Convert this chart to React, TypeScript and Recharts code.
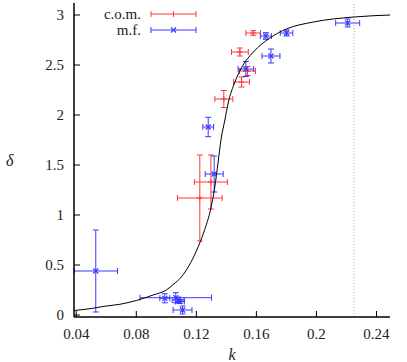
import React from "react";
import {
  ComposedChart,
  Line,
  Scatter,
  ErrorBar,
  XAxis,
  YAxis,
  ReferenceLine,
} from "recharts";

// theory curve
const curveK = [
  0.0385, 0.05, 0.06, 0.069, 0.08, 0.0912, 0.1, 0.105, 0.11, 0.115, 0.12, 0.125,
  0.1297, 0.1323, 0.1345, 0.1365, 0.139, 0.1412, 0.1457, 0.15, 0.158, 0.169,
  0.18, 0.198, 0.225, 0.249,
];
const curveDelta = [
  0.045, 0.065, 0.09, 0.107, 0.145, 0.2, 0.25, 0.31, 0.38, 0.49, 0.64, 0.83,
  1.07, 1.28, 1.53, 1.76, 1.95, 2.12, 2.33, 2.47, 2.63, 2.77, 2.86, 2.93, 2.98,
  3.0,
];

// c.o.m.
const comK = [0.1579, 0.149, 0.1541, 0.1501, 0.1383, 0.1223, 0.1297];
const comDelta = [2.82, 2.63, 2.44, 2.33, 2.16, 1.17, 1.33];
const comErrK = [0.0049, 0.0056, 0.0053, 0.0053, 0.006, 0.0149, 0.011];
const comErrDelta = [0.023, 0.04, 0.045, 0.05, 0.085, 0.43, 0.27];

// m.f.
const mfK = [
  0.1279, 0.153, 0.1663, 0.1697, 0.1801, 0.2208, 0.1319, 0.053, 0.099, 0.1063,
  0.1079, 0.109, 0.1108,
];
const mfDelta = [
  1.88, 2.46, 2.79, 2.59, 2.82, 2.92, 1.41, 0.44, 0.167, 0.173, 0.15, 0.135,
  0.05,
];
const mfErrK = [
  0.0036, 0.0052, 0.0037, 0.006, 0.0042, 0.008, 0.006, 0.0145, 0.0033, 0.0238,
  0.004, 0.003, 0.0063,
];
const mfErrDelta = [
  0.097, 0.075, 0.033, 0.07, 0.03, 0.04, 0.18, 0.41, 0.045, 0.05, 0.03, 0.02,
  0.04,
];

const xTicks = [0.04, 0.08, 0.12, 0.16, 0.2, 0.24];
const yTicks = [0, 0.5, 1, 1.5, 2, 2.5, 3];
const xLabels = ["0.04", "0.08", "0.12", "0.16", "0.2", "0.24"];
const yLabels = ["0", "0.5", "1", "1.5", "2", "2.5", "3"];

const X_DOMAIN: [number, number] = [0.0385, 0.249];
const Y_DOMAIN: [number, number] = [-0.02, 3.12];

const RED = "#ff3838";
const BLUE = "#3838ff";
const FONT = "Liberation Serif";
const textStyle = { fontFamily: FONT, fontSize: 15, fill: "#222" };

const curveData = curveK.map((k, i) => ({ k, delta: curveDelta[i] }));
const comData = comK.map((k, i) => ({
  k,
  delta: comDelta[i],
  ek: comErrK[i],
  ed: comErrDelta[i],
}));
const mfData = mfK.map((k, i) => ({
  k,
  delta: mfDelta[i],
  ek: mfErrK[i],
  ed: mfErrDelta[i],
}));

const PlusMark = (props: any) => {
  const { cx, cy } = props;
  return (
    <path
      d={`M${cx - 3},${cy}H${cx + 3}M${cx},${cy - 3}V${cy + 3}`}
      stroke={RED}
      strokeWidth={1}
      fill="none"
    />
  );
};

const CrossMark = (props: any) => {
  const { cx, cy } = props;
  return (
    <path
      d={`M${cx - 2.5},${cy - 2.5}L${cx + 2.5},${cy + 2.5}M${cx - 2.5},${cy + 2.5}L${cx + 2.5},${cy - 2.5}`}
      stroke={BLUE}
      strokeWidth={1.2}
      fill="none"
    />
  );
};

const BottomTick = (props: any) => {
  const { x, y, index } = props;
  return (
    <g>
      <line x1={x} y1={y} x2={x} y2={y - 6} stroke="#000" strokeWidth={1} />
      <text
        x={x}
        y={y + 17}
        textAnchor="middle"
        dominantBaseline="central"
        style={textStyle}
      >
        {xLabels[index]}
      </text>
    </g>
  );
};

const TopTick = (props: any) => {
  const { x, y } = props;
  return <line x1={x} y1={y} x2={x} y2={y + 6} stroke="#000" strokeWidth={1} />;
};

const LeftTick = (props: any) => {
  const { x, y, index } = props;
  return (
    <g>
      <line x1={x} y1={y} x2={x + 6} y2={y} stroke="#000" strokeWidth={1} />
      <text
        x={x - 10}
        y={y}
        textAnchor="end"
        dominantBaseline="central"
        style={textStyle}
      >
        {yLabels[index]}
      </text>
    </g>
  );
};

const RightTick = (props: any) => {
  const { x, y } = props;
  return <line x1={x} y1={y} x2={x - 6} y2={y} stroke="#000" strokeWidth={1} />;
};

const LegendRow = ({
  y,
  label,
  color,
  cross,
}: {
  y: number;
  label: string;
  color: string;
  cross: boolean;
}) => (
  <g>
    <text
      x={141}
      y={y}
      textAnchor="end"
      dominantBaseline="central"
      style={textStyle}
    >
      {label}
    </text>
    <path
      d={`M151,${y}H196M151,${y - 3}V${y + 3}M196,${y - 3}V${y + 3}`}
      stroke={color}
      strokeWidth={1}
      fill="none"
    />
    {cross ? (
      <path
        d={`M171,${y - 2.5}L176,${y + 2.5}M171,${y + 2.5}L176,${y - 2.5}`}
        stroke={color}
        strokeWidth={1.2}
      />
    ) : (
      <path d={`M173.5,${y - 3}V${y + 3}`} stroke={color} strokeWidth={1} />
    )}
  </g>
);

export default function App() {
  return (
    <div style={{ position: "absolute", left: 0, top: 0, width: 407, height: 362, background: "#fff", fontFamily: FONT }}>
      <ComposedChart
        width={407}
        height={362}
        margin={{ top: 3, right: 17, left: 6, bottom: 15 }}
      >
        <XAxis
          type="number"
          dataKey="k"
          domain={X_DOMAIN}
          allowDataOverflow
          ticks={xTicks}
          interval={0}
          height={30}
          tickSize={0}
          tickMargin={0}
          tick={<BottomTick />}
          axisLine={{ stroke: "#000", strokeWidth: 1.5 }}
          tickLine={false}
          label={{
            value: "k",
            position: "bottom",
            offset: 2,
            style: { fontFamily: FONT, fontStyle: "italic", fontSize: 16, fill: "#222" },
          }}
        />
        <XAxis
          xAxisId="top"
          orientation="top"
          type="number"
          domain={X_DOMAIN}
          allowDataOverflow
          ticks={xTicks}
          interval={0}
          height={0}
          tickSize={0}
          tickMargin={0}
          tick={<TopTick />}
          axisLine={{ stroke: "#000", strokeWidth: 1.5 }}
          tickLine={false}
        />
        <YAxis
          type="number"
          domain={Y_DOMAIN}
          allowDataOverflow
          ticks={yTicks}
          interval={0}
          width={68}
          tickSize={0}
          tickMargin={0}
          tick={<LeftTick />}
          axisLine={{ stroke: "#000", strokeWidth: 1.5 }}
          tickLine={false}
          label={{
            value: "δ",
            position: "insideLeft",
            offset: 0,
            style: { fontFamily: FONT, fontStyle: "italic", fontSize: 16, fill: "#222" },
          }}
        />
        <YAxis
          yAxisId="right"
          orientation="right"
          type="number"
          domain={Y_DOMAIN}
          allowDataOverflow
          ticks={yTicks}
          interval={0}
          width={0}
          tickSize={0}
          tickMargin={0}
          tick={<RightTick />}
          axisLine={{ stroke: "#000", strokeWidth: 1.5 }}
          tickLine={false}
        />
        <ReferenceLine x={0.225} stroke="#aaa" strokeDasharray="1 2" />
        <Scatter
          data={comData}
          dataKey="delta"
          shape={<PlusMark />}
          isAnimationActive={false}
        >
          <ErrorBar dataKey="ek" direction="x" width={3} stroke={RED} strokeWidth={1} />
          <ErrorBar dataKey="ed" direction="y" width={3} stroke={RED} strokeWidth={1} />
        </Scatter>
        <Scatter
          data={mfData}
          dataKey="delta"
          shape={<CrossMark />}
          isAnimationActive={false}
        >
          <ErrorBar dataKey="ek" direction="x" width={3} stroke={BLUE} strokeWidth={1} />
          <ErrorBar dataKey="ed" direction="y" width={3} stroke={BLUE} strokeWidth={1} />
        </Scatter>
        <Line
          data={curveData}
          dataKey="delta"
          type="monotone"
          stroke="#000"
          strokeWidth={1}
          dot={false}
          activeDot={false}
          isAnimationActive={false}
        />
      </ComposedChart>
      <svg
        width={407}
        height={362}
        style={{ position: "absolute", left: 0, top: 0, pointerEvents: "none" }}
      >
        <LegendRow y={14} label="c.o.m." color={RED} cross={false} />
        <LegendRow y={30} label="m.f." color={BLUE} cross={true} />
      </svg>
    </div>
  );
}
